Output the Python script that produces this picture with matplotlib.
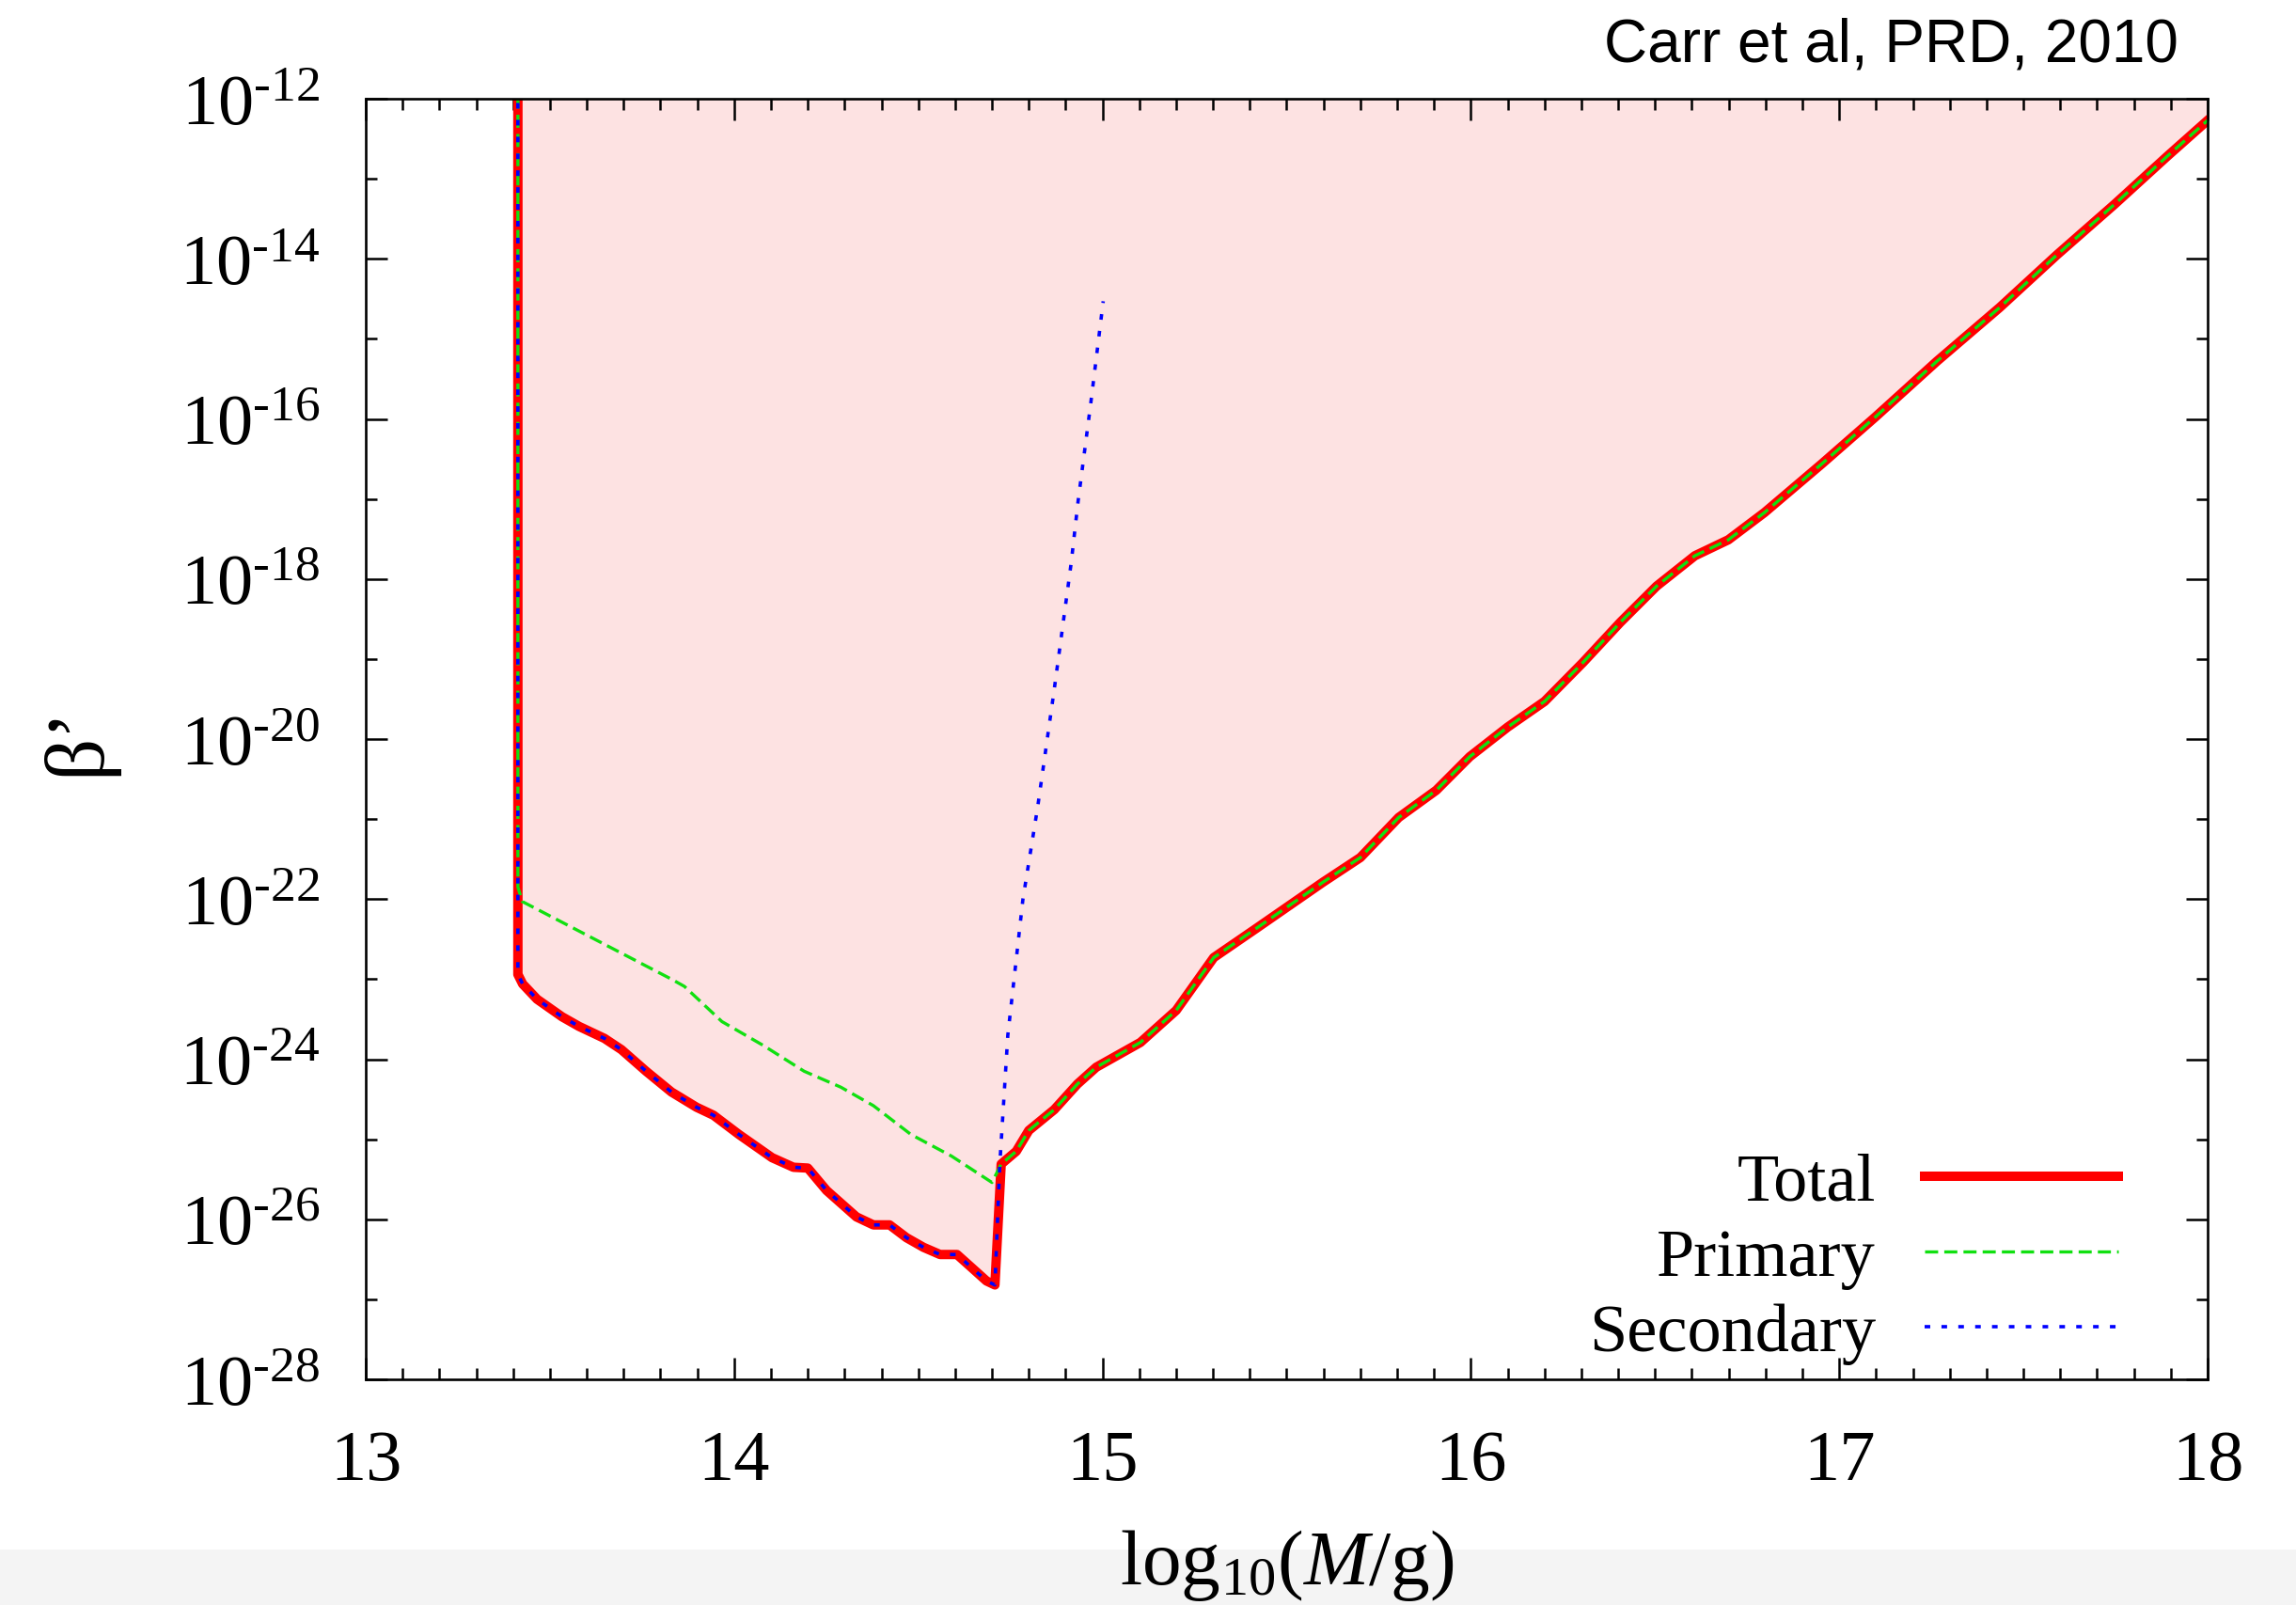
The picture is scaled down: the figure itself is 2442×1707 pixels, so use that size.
import numpy as np
import matplotlib
matplotlib.use("Agg")
import matplotlib.pyplot as plt
from matplotlib.ticker import FixedLocator, NullFormatter, FuncFormatter
from matplotlib.patches import Rectangle

plt.rcParams['font.family'] = ['Liberation Serif', 'DejaVu Serif']
plt.rcParams['mathtext.fontset'] = 'custom'
plt.rcParams['mathtext.rm'] = 'Liberation Serif'
plt.rcParams['mathtext.it'] = 'Liberation Serif:italic'
plt.rcParams['lines.scale_dashes'] = False

# ---- data: log10(M/g) and log10(beta') ----
total_logm = [13.413, 13.413, 13.426, 13.465, 13.533, 13.579, 13.648, 13.694, 13.761,
              13.830, 13.898, 13.944, 14.013, 14.103, 14.161, 14.200, 14.251, 14.332,
              14.378, 14.422, 14.468, 14.514, 14.559, 14.605, 14.639, 14.685, 14.708,
              14.725, 14.766, 14.800, 14.869, 14.932, 14.983, 15.103, 15.200, 15.302,
              15.416, 15.598, 15.700, 15.804, 15.906, 15.997, 16.100, 16.200, 16.305,
              16.406, 16.504, 16.608, 16.699, 16.797, 16.953, 17.097, 17.265, 17.435,
              17.591, 17.747, 17.890, 18.000]
total_logb = [-11.0, -22.94, -23.06, -23.25, -23.47, -23.59, -23.74, -23.88, -24.15,
              -24.41, -24.60, -24.70, -24.94, -25.23, -25.35, -25.36, -25.64, -25.97,
              -26.07, -26.07, -26.23, -26.35, -26.44, -26.44, -26.58, -26.77, -26.82,
              -25.31, -25.15, -24.89, -24.63, -24.31, -24.10, -23.79, -23.39, -22.73,
              -22.37, -21.79, -21.48, -20.98, -20.64, -20.22, -19.85, -19.53, -19.04,
              -18.54, -18.09, -17.71, -17.51, -17.17, -16.56, -15.98, -15.28, -14.61,
              -13.95, -13.32, -12.72, -12.27]

# primary constraint below the kink; above it, it coincides with the total
primary_logm = [13.413, 13.413, 13.425, 13.830, 13.865, 13.967, 14.080, 14.190,
                14.290, 14.378, 14.480, 14.590, 14.700]
primary_logb = [-11.0, -21.85, -22.03, -23.00, -23.09, -23.53, -23.83, -24.15,
                -24.35, -24.58, -24.94, -25.21, -25.54]

# secondary constraint above the dip; below it, it coincides with the total
secondary_logm = [14.721, 14.743, 14.784, 14.824, 14.869, 14.915, 14.934, 14.968, 15.002]
secondary_logb = [-25.33, -23.70, -22.00, -20.85, -19.38, -17.80, -17.02, -15.81, -14.53]

kink = total_logm.index(14.725)
dip = total_logm.index(14.708)

prim_x = np.array(primary_logm + total_logm[kink:])
prim_y = np.array(primary_logb + total_logb[kink:])
sec_x = np.array(total_logm[:dip + 1] + secondary_logm)
sec_y = np.array(total_logb[:dip + 1] + secondary_logb)
tot_x = np.array(total_logm)
tot_y = np.array(total_logb)

x_ticks = [13, 14, 15, 16, 17, 18]
y_major_exp = list(range(-28, -11, 2))
y_minor_exp = list(range(-27, -12, 2))

HYPHEN = '\u2010'


def y_label(v, pos):
    e = int(round(np.log10(v)))
    return r'$\mathregular{10^{' + HYPHEN + str(-e) + '}}$'


# ---- figure ----
fig = plt.figure(figsize=(24.42, 17.08), dpi=100)
fig.patches.append(Rectangle((0, 0), 1, 0.0345, transform=fig.transFigure,
                             facecolor='#f4f4f4', edgecolor='none', zorder=-5))
ax = fig.add_axes([0.1593, 0.1405, 0.8022, 0.7974])
ax.set_yscale('log')

ax.fill_between(tot_x, 10.0 ** tot_y, 1e-11, color='#fde2e2', lw=0, zorder=1)
ax.plot(tot_x, 10.0 ** tot_y, color='#ff0000', lw=7.2, solid_joinstyle='round',
        label='Total', zorder=3)
ax.plot(prim_x, 10.0 ** prim_y, color='#11e011', lw=2.4, dashes=(10, 4.7),
        label='Primary', zorder=4)
ax.plot(sec_x, 10.0 ** sec_y, color='#0000ff', lw=2.6, dashes=(4.3, 8.6),
        label='Secondary', zorder=5)

ax.set_xlim(13, 18)
ax.set_ylim(1e-28, 1e-12)

ax.xaxis.set_major_locator(FixedLocator(x_ticks))
ax.xaxis.set_minor_locator(FixedLocator(np.arange(130, 181) / 10.0))
ax.yaxis.set_major_locator(FixedLocator([10.0 ** e for e in y_major_exp]))
ax.yaxis.set_minor_locator(FixedLocator([10.0 ** e for e in y_minor_exp]))
ax.yaxis.set_minor_formatter(NullFormatter())
ax.xaxis.set_major_formatter(FuncFormatter(lambda v, p: f'{v:.0f}'))
ax.yaxis.set_major_formatter(FuncFormatter(y_label))

ax.tick_params(which='both', direction='in', top=True, right=True, width=1.8,
               labelsize=55)
ax.tick_params(which='major', length=16.5)
ax.tick_params(which='minor', length=8.6)
ax.tick_params(axis='x', pad=38)
ax.tick_params(axis='y', pad=35)
for s in ax.spines.values():
    s.set_linewidth(1.9)
    s.set_zorder(6)

leg = ax.legend(loc='center right', bbox_to_anchor=(0.9515, 0.0947), frameon=False,
                markerfirst=False, fontsize=52, handlelength=2.85, handletextpad=0.72,
                labelspacing=0.2, borderpad=0, borderaxespad=0)

fig.text(0.034, 0.539, 'β\u2019', rotation=90, ha='center', va='center', fontsize=64)
fig.text(0.5605, 1 - 1685 / 1708, r'$\mathrm{log}_{10}(M/\mathrm{g})$',
         ha='center', va='baseline', fontsize=60)
fig.text(0.9488, 1 - 65 / 1708, 'Carr et al, PRD, 2010', ha='right', va='baseline',
         fontsize=46, family='Liberation Sans')

fig.savefig('out.png', dpi=100)
